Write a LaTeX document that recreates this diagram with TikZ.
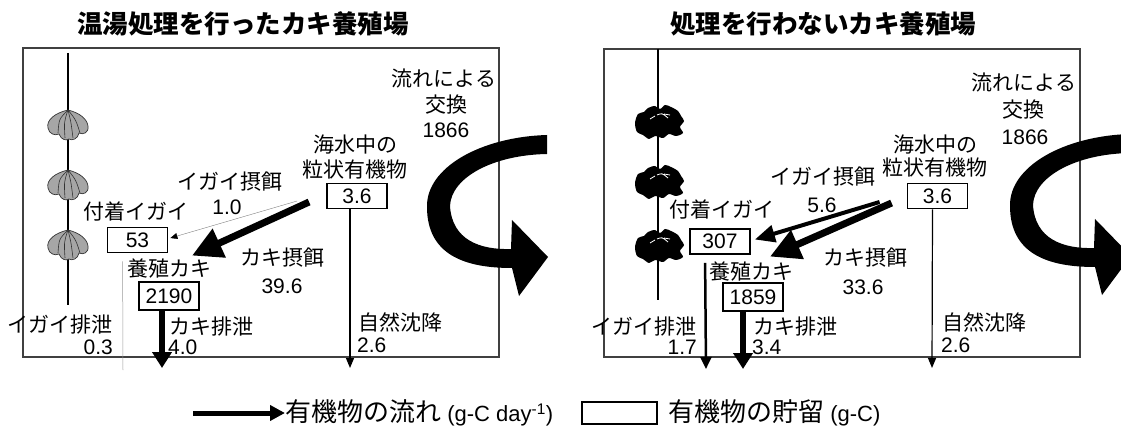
\documentclass[tikz,border=0pt]{standalone}
\usepackage{fontspec}
\setmainfont{Liberation Sans}
\newfontfamily\jp{Noto Sans CJK JP}
\usetikzlibrary{arrows.meta}

\begin{document}
\begin{tikzpicture}[
    x=1pt, y=-1pt,
    every node/.style={font=\fontsize{21}{24}\selectfont, inner sep=0pt},
    >=Triangle,
    jlab/.style={font=\jp\fontsize{21}{24}\selectfont},
    heading/.style={font=\jp\bfseries\fontsize{25.5}{30}\selectfont},
    legend/.style={font=\fontsize{22}{26}\selectfont, anchor=west},
    pool/.style={draw, line width=1.8pt, minimum width=60pt, minimum height=25pt},
    bigpool/.style={pool, line width=2.8pt, minimum height=28pt},
    panel/.style={line width=1.3pt, black!75},
    rope/.style={line width=1.5pt},
    fat/.style={line width=7pt, -{Triangle[length=30pt, width=30pt]}},
    mid/.style={line width=4pt, -{Triangle[length=20pt, width=17pt]}},
    drop/.style={line width=5.5pt, -{Triangle[length=16pt, width=19pt]}},
    slim/.style={line width=2.5pt, -{Triangle[length=12pt, width=11pt]}},
    sink/.style={line width=1.2pt, -{Triangle[length=10pt, width=8pt]}},
    hair/.style={line width=0.4pt, black!50, -{Triangle[length=7pt, width=6pt, black]}},
    faint/.style={line width=0.5pt, black!40},
]
\useasboundingbox (0,0) rectangle (1121,430);

% === panels ===
\draw[panel] (23,48) rectangle (499,357);
\draw[panel] (604,49) rectangle (1080,357);

% === ropes with hanging oysters ===
\draw[rope] (68,53) -- (68,305);
\draw[rope] (658,49) -- (658,300);

% treated: clean grey shells
\foreach \y in {125,185,245} {
  \begin{scope}[shift={(68,\y)}]
    \filldraw[fill=gray!70, draw=black!80, line width=0.7pt]
      (0,-15) .. controls (-13,-12) and (-22,-5) .. (-20,3)
      .. controls (-19,9) and (-13,11) .. (-9,9)
      .. controls (-7,15) and (-1,16) .. (1,14)
      .. controls (4,16) and (10,14) .. (11,8)
      .. controls (15,10) and (21,8) .. (20,1)
      .. controls (19,-6) and (12,-12) .. (0,-15) -- cycle;
    \draw[black!80, line width=0.6pt]
      (0,-15) .. controls (-9,-6) .. (-10,8)
      (0,-15) .. controls (-4,-3) .. (-3,13)
      (0,-15) .. controls (3,-3) .. (5,13)
      (0,-15) .. controls (8,-5) .. (12,8);
  \end{scope}
}

% untreated: fouled black clumps
\foreach \y in {122,182,246} {
  \begin{scope}[shift={(659,\y)}]
    \fill plot[smooth cycle] coordinates {(-24,1) (-21,-8) (-15,-10) (-11,-14) (-4,-16) (1,-13)
      (6,-17) (12,-15) (19,-11) (22,-6) (25,-1) (21,5) (24,11) (17,14) (10,12) (4,16)
      (-4,14) (-10,17) (-16,13) (-22,10)};
    \draw[white, line width=0.8pt] (-9,-3) -- (-4,-6) (-2,-7) .. controls (3,-9) .. (9,-4)
      (5,-8) -- (11,-7);
  \end{scope}
}

% === exchange by current (big curved arrows) ===
\begin{scope}
  \clip (0,0) rectangle (1121,430);
  \foreach \dx/\dy in {0/0, 583/-1} {
    \fill[shift={(\dx,\dy)}] (547,135) .. controls (480,137) and (426,168) .. (427,207)
      .. controls (427,255) and (465,268) .. (512,268)
      -- (519,296) -- (548,257) -- (512,220) -- (511,249)
      .. controls (480,250) and (452,240) .. (450,206)
      .. controls (451,178) and (492,155) .. (547,154) -- cycle;
  }
\end{scope}

% === treated farm ===
\node[heading] (ttlL) at (243,24) {温湯処理を行ったカキ養殖場};
\node[jlab] (musFeedL) at (230,182) {イガイ摂餌};
\node (musFeedValL) at (227,207) {1.0};
\node[jlab] (musL) at (136,212) {付着イガイ};
\node[pool] (b53) at (137.5,240) {53};
\node[jlab] (oysL) at (169,269) {養殖カキ};
\node[bigpool] (b2190) at (169,296) {2190};
\node[jlab] (oysFeedL) at (282,258) {カキ摂餌};
\node (oysFeedValL) at (282,286) {39.6};
\node[jlab] (seaL) at (355,145) {海水中の};
\node[jlab] (pomL) at (355,170) {粒状有機物};
\node[pool] (b36L) at (357,196) {3.6};
\node[jlab, anchor=east] (musExL) at (113,325) {イガイ排泄};
\node[anchor=east] (musExValL) at (113,347) {0.3};
\node[jlab, anchor=west] (oysExL) at (169,327) {カキ排泄};
\node[anchor=west] (oysExValL) at (168,347) {4.0};
\node[jlab, anchor=west] (sinkL) at (358,322) {自然沈降};
\node[anchor=west] (sinkValL) at (357,345) {2.6};
\node[jlab] (exchL) at (444,79) {流れによる};
\node[jlab] (exch2L) at (446,105) {交換};
\node (exchValL) at (446,130) {1866};

\coordinate (musOutL) at (123,370);
\coordinate (oysOutL) at (162,368);
\coordinate (sinkOutL) at (350,368);

\draw[hair] ([shift={(-29,5)}]b36L.west) -- ([shift={(2,-2)}]b53.east);
\draw[fat] ([shift={(-17,6)}]b36L.west) -- ([shift={(23,-25)}]b2190.north);
\draw[faint] ([shift={(16,8)}]b53.south west) -- (musOutL);
\draw[drop] ([shift={(-7,0)}]b2190.south) -- (oysOutL);
\draw[sink] ([shift={(-7,0)}]b36L.south) -- (sinkOutL);

% === untreated farm ===
\node[heading] (ttlR) at (823,24) {処理を行わないカキ養殖場};
\node[jlab] (musFeedR) at (823,177) {イガイ摂餌};
\node (musFeedValR) at (822,205) {5.6};
\node[jlab] (musR) at (722,210) {付着イガイ};
\node[pool] (b307) at (720,241.5) {307};
\node[jlab] (oysR) at (751,272) {養殖カキ};
\node[bigpool] (b1859) at (753,297) {1859};
\node[jlab] (oysFeedR) at (865,258) {カキ摂餌};
\node (oysFeedValR) at (863,287) {33.6};
\node[jlab] (seaR) at (935,145) {海水中の};
\node[jlab] (pomR) at (935,168) {粒状有機物};
\node[pool] (b36R) at (937.5,196) {3.6};
\node[jlab, anchor=east] (musExR) at (697,327) {イガイ排泄};
\node[anchor=east] (musExValR) at (697,347) {1.7};
\node[jlab, anchor=west] (oysExR) at (753,327) {カキ排泄};
\node[anchor=west] (oysExValR) at (752,347) {3.4};
\node[jlab, anchor=west] (sinkR) at (942,322) {自然沈降};
\node[anchor=west] (sinkValR) at (941,345) {2.6};
\node[jlab] (exchR) at (1024,83) {流れによる};
\node[jlab] (exch2R) at (1023,110) {交換};
\node (exchValR) at (1025,137) {1866};

\coordinate (musOutR) at (706,369);
\coordinate (oysOutR) at (743,369);
\coordinate (sinkOutR) at (932,368);

\draw[mid] ([shift={(-27,6)}]b36R.west) -- ([shift={(4,-2)}]b307.east);
\draw[fat] ([shift={(-15,7)}]b36R.west) -- ([shift={(17,-25)}]b1859.north);
\draw[slim] ([shift={(16,8)}]b307.south west) -- (musOutR);
\draw[drop] ([shift={(-10,0)}]b1859.south) -- (oysOutR);
\draw[sink] ([shift={(-5,0)}]b36R.south) -- (sinkOutR);

% === legend ===
\coordinate (legStart) at (193,413);
\node[legend] (legFlow) at (285,413) {{\jp\fontsize{26}{28}\selectfont 有機物の流れ} (g-C day\textsuperscript{-1})};
\draw[line width=5pt, -{Triangle[length=15pt, width=15pt]}] (legStart) -- (legFlow.west);
\node[draw, line width=1.8pt, minimum width=75pt, minimum height=22pt] (legBox) at (619.5,413) {};
\node[legend] (legStock) at (668,413) {{\jp\fontsize{26}{28}\selectfont 有機物の貯留} (g-C)};

\end{tikzpicture}
\end{document}
